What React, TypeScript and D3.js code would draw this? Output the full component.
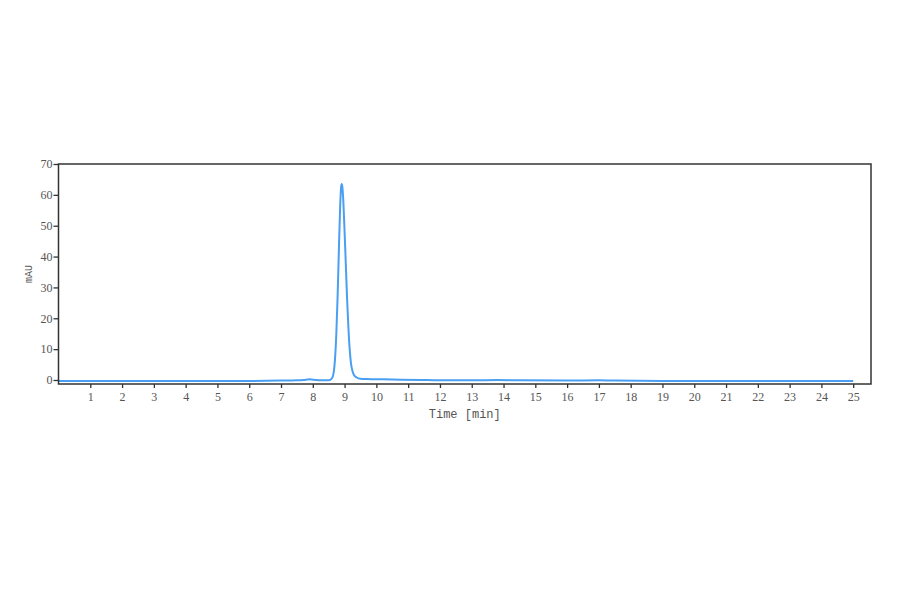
import { useRef, useEffect } from 'react'
import * as d3 from 'd3'

// chromatogram samples (time in min, absorbance in mAU)
const times = [
  0, 1, 2, 3, 4, 5, 6, 7, 7.5, 7.7, 7.9, 8.1, 8.3, 8.5, 8.6, 8.65, 8.7, 8.74, 8.78,
  8.82, 8.86, 8.89, 8.91, 8.93, 8.96, 9.0, 9.04, 9.08, 9.12, 9.16, 9.2, 9.25, 9.3,
  9.38, 9.5, 9.7, 10.2, 10.8, 11.4, 12, 13, 13.8, 14.5, 16, 17, 17.5, 19, 21, 23, 25,
]
const absorb = [
  -0.3, -0.3, -0.3, -0.3, -0.3, -0.3, -0.3, -0.2, -0.1, 0.0, 0.2, 0.0, -0.1, -0.1, 0.5,
  2, 7, 15, 27, 42, 56, 62.5, 63.5, 62.5, 58, 48, 37, 26, 17, 10, 5.5, 2.8, 1.5, 0.8,
  0.4, 0.3, 0.2, 0.1, 0.0, -0.1, -0.1, 0.0, -0.1, -0.2, -0.1, -0.2, -0.3, -0.3, -0.3,
  -0.3,
]
const xTicks = d3.range(1, 26)
const yTicks = [0, 10, 20, 30, 40, 50, 60, 70]

export default function App() {
  const svgRef = useRef<SVGSVGElement>(null)

  useEffect(() => {
    if (!svgRef.current) return
    const svg = d3.select(svgRef.current)
    svg.selectAll('*').remove()

    const width = 900
    const height = 594
    const margin = { top: 164, right: 29, bottom: 210, left: 58.5 }
    const innerW = width - margin.left - margin.right
    const innerH = height - margin.top - margin.bottom

    const g = svg.append('g')
      .attr('transform', `translate(${margin.left},${margin.top})`)

    const x = d3.scaleLinear().domain([0, 25.56]).range([0, innerW])
    const y = d3.scaleLinear().domain([-1.3, 70]).range([innerH, 0])

    const pts = times.map((t, i) => [t, absorb[i]] as [number, number])

    // X axis
    const xa = g.append('g')
      .attr('transform', `translate(0,${innerH})`)
      .call(d3.axisBottom(x).tickValues(xTicks).tickSize(4).tickPadding(4).tickFormat(d => String(d)))
    xa.select('.domain').remove()
    xa.selectAll('line').attr('stroke', '#333').attr('stroke-width', 1.3)
    xa.selectAll('text')
      .style('font-family', '"Liberation Serif", serif')
      .style('font-size', '12px')
      .attr('fill', '#555')

    // Y axis
    const ya = g.append('g')
      .call(d3.axisLeft(y).tickValues(yTicks).tickSize(5).tickPadding(1))
    ya.select('.domain').remove()
    ya.selectAll('line').attr('stroke', '#333').attr('stroke-width', 1.3)
    ya.selectAll('text')
      .style('font-family', '"Liberation Serif", serif')
      .style('font-size', '12px')
      .attr('fill', '#555')

    // Trace
    const line = d3.line<[number, number]>()
      .x(d => x(d[0]))
      .y(d => y(d[1]))
      .curve(d3.curveMonotoneX)

    g.append('path')
      .datum(pts)
      .attr('fill', 'none')
      .attr('stroke', '#4a9ff2')
      .attr('stroke-width', 2)
      .attr('stroke-linejoin', 'round')
      .attr('d', line)

    // Frame
    g.append('rect')
      .attr('x', 0).attr('y', 0)
      .attr('width', innerW).attr('height', innerH)
      .attr('fill', 'none')
      .attr('stroke', '#333')
      .attr('stroke-width', 1.5)

    // Labels
    g.append('text')
      .attr('x', innerW / 2).attr('y', innerH + 34)
      .attr('text-anchor', 'middle')
      .style('font-family', '"Liberation Mono", monospace')
      .style('font-size', '12px')
      .attr('fill', '#555')
      .text('Time [min]')

    g.append('text')
      .attr('transform', 'rotate(-90)')
      .attr('x', -innerH / 2).attr('y', -27)
      .attr('text-anchor', 'middle')
      .style('font-family', '"Liberation Mono", monospace')
      .style('font-size', '10px')
      .attr('fill', '#555')
      .text('mAU')
  }, [])

  return (
    <svg ref={svgRef} width={900} height={594}
      style={{ position: 'absolute', left: 0, top: 0, background: '#fff' }} />
  )
}
